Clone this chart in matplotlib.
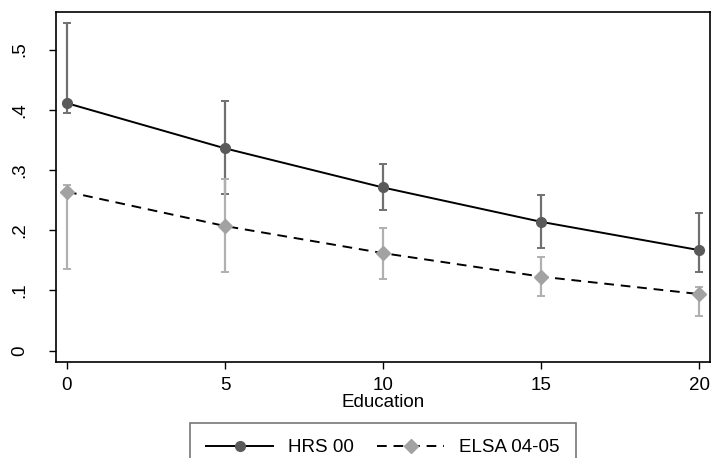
import matplotlib
matplotlib.use("Agg")
import matplotlib.pyplot as plt
from matplotlib.lines import Line2D

plt.rcParams['font.family'] = ['Liberation Sans', 'DejaVu Sans']

# Data
education = [0, 5, 10, 15, 20]

hrs_mean = [0.411, 0.336, 0.271, 0.214, 0.167]
hrs_lo = [0.394, 0.260, 0.233, 0.170, 0.131]
hrs_hi = [0.544, 0.415, 0.310, 0.259, 0.228]

elsa_mean = [0.264, 0.207, 0.162, 0.123, 0.094]
elsa_lo = [0.136, 0.131, 0.119, 0.091, 0.058]
elsa_hi = [0.275, 0.285, 0.204, 0.155, 0.105]

yticks = [0, 0.1, 0.2, 0.3, 0.4, 0.5]
ytick_labels = ["0", ".1", ".2", ".3", ".4", ".5"]

hrs_marker = "#5a5a5a"
hrs_bar = "#707070"
elsa_marker = "#a2a2a2"
elsa_bar = "#b0b0b0"
fs = 13.5

fig = plt.figure(figsize=(7.13, 4.58), dpi=100)
ax = fig.add_axes([0.078, 0.2096, 0.918, 0.7644])

# confidence intervals (ELSA drawn over HRS)
cap = 0.13
ax.vlines(education, hrs_lo, hrs_hi, color=hrs_bar, lw=1.6, zorder=2)
ax.hlines(hrs_lo + hrs_hi, [e - cap for e in education * 2], [e + cap for e in education * 2],
          color=hrs_bar, lw=1.4, zorder=2)
ax.vlines(education, elsa_lo, elsa_hi, color=elsa_bar, lw=1.6, zorder=3)
ax.hlines(elsa_lo + elsa_hi, [e - cap for e in education * 2], [e + cap for e in education * 2],
          color=elsa_bar, lw=1.4, zorder=3)

# lines + markers
dash = (0, (5, 3.5))
ax.plot(education, hrs_mean, color="black", lw=1.4, zorder=4)
ax.plot(education, hrs_mean, ls="none", marker="o", ms=7, color=hrs_marker, zorder=5)
ax.plot(education, elsa_mean, color="black", lw=1.4, ls=dash, zorder=4)
ax.plot(education, elsa_mean, ls="none", marker="D", ms=7.5, color=elsa_marker, zorder=5)

ax.set_xlim(-0.36, 20.35)
ax.set_ylim(-0.0188, 0.5626)
ax.set_xticks([0, 5, 10, 15, 20])
ax.set_xticklabels(["0", "5", "10", "15", "20"], fontsize=fs)
ax.set_yticks(yticks)
ax.set_yticklabels(ytick_labels, fontsize=fs, rotation=90, va="center")
ax.tick_params(length=5, width=1, direction="out")
ax.tick_params(axis="x", pad=6)
ax.tick_params(axis="y", pad=15)
ax.set_xlabel("Education", fontsize=fs, labelpad=0)
for s in ax.spines.values():
    s.set_linewidth(1.2)

# legend box runs off the bottom edge as in the original
handles = [
    Line2D([], [], color="black", lw=1.4, marker="o", ms=7, markerfacecolor=hrs_marker,
           markeredgecolor=hrs_marker),
    Line2D([], [], color="black", lw=1.4, ls=dash, marker="D", ms=7.5,
           markerfacecolor=elsa_marker, markeredgecolor=elsa_marker),
]
leg = fig.legend(handles, ["HRS 00", "ELSA 04-05"], loc="upper center",
                 bbox_to_anchor=(0.537, 0.0764), borderaxespad=0, ncol=2, fontsize=fs,
                 frameon=True, fancybox=False, edgecolor="#555555", handlelength=3.6,
                 columnspacing=1.2, borderpad=0.85)
leg.get_frame().set_linewidth(1.2)

fig.savefig("out.png", dpi=100)
